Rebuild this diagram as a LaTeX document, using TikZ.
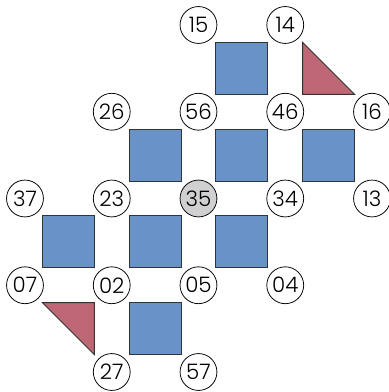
\documentclass[tikz,border=0pt]{standalone}
\usepackage{fontspec}
\setmainfont{Poppins}[UprightFont=* Light]
\usetikzlibrary{positioning}
\definecolor{tileBlue}{RGB}{104,146,200}
\definecolor{tileRed}{RGB}{190,104,118}
\definecolor{hubGray}{RGB}{208,208,208}

\begin{document}
\begin{tikzpicture}[
    site/.style={circle, draw=black, fill=white, minimum size=8.5mm, inner sep=0pt,
                 line width=0.5pt, font=\fontsize{14}{16}\selectfont},
    hub/.style={site, fill=hubGray},
    tile/.style={rectangle, draw=black!80, fill=tileBlue, minimum size=12mm,
                 inner sep=0pt, line width=0.6pt},
    wedge/.style={draw=black!80, fill=tileRed, line width=0.6pt, line join=miter}
  ]
  \useasboundingbox (-0.576,0.576) rectangle (8.369,-8.461);
  % tiles
  \node[tile] (t1) at (5,-1) {};
  \node[tile] (t2) at (3,-3) {};
  \node[tile] (t3) at (5,-3) {};
  \node[tile] (t4) at (7,-3) {};
  \node[tile] (t5) at (1,-5) {};
  \node[tile] (t6) at (3,-5) {};
  \node[tile] (t7) at (5,-5) {};
  \node[tile] (t8) at (3,-7) {};
  % half tiles
  \draw[wedge] (6.4,-0.4) -- (6.4,-1.6) -- (7.6,-1.6) -- cycle;
  \draw[wedge] (0.4,-6.4) -- (1.6,-6.4) -- (1.6,-7.6) -- cycle;
  % sites
  \node[site] (s15) at (4, 0) {15};
  \node[site] (s14) at (6, 0) {14};
  \node[site] (s26) at (2,-2) {26};
  \node[site] (s56) at (4,-2) {56};
  \node[site] (s46) at (6,-2) {46};
  \node[site] (s16) at (8,-2) {16};
  \node[site] (s37) at (0,-4) {37};
  \node[site] (s23) at (2,-4) {23};
  \node[hub]  (s35) at (4,-4) {35};
  \node[site] (s34) at (6,-4) {34};
  \node[site] (s13) at (8,-4) {13};
  \node[site] (s07) at (0,-6) {07};
  \node[site] (s02) at (2,-6) {02};
  \node[site] (s05) at (4,-6) {05};
  \node[site] (s04) at (6,-6) {04};
  \node[site] (s27) at (2,-8) {27};
  \node[site] (s57) at (4,-8) {57};
\end{tikzpicture}
\end{document}
